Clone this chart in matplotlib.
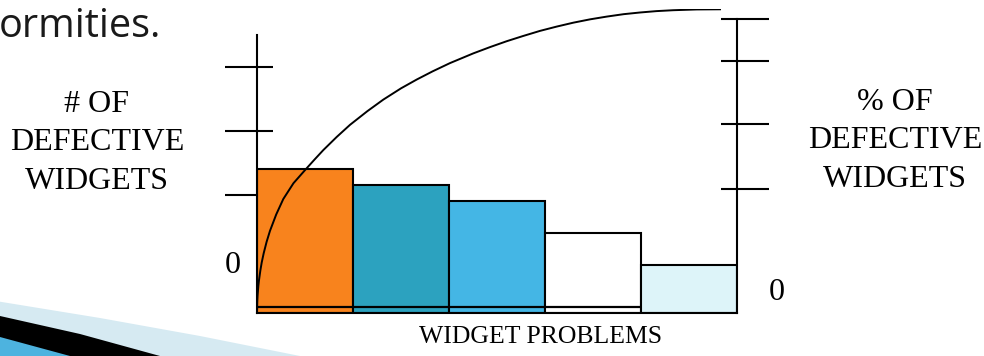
import matplotlib.pyplot as plt
from matplotlib.patches import Polygon

# bar data (number of defective widgets, in arbitrary units)
problems = ["A", "B", "C", "D", "E"]
counts = [9, 8, 7, 5, 3]
bar_colors = ["#F8831D", "#2CA2BF", "#44B6E5", "#FFFFFF", "#DDF4F9"]

# cumulative % curve
curve_x = [-0.5, -0.4985, -0.497, -0.494, -0.486, -0.48, -0.465, -0.451, -0.43, -0.40,
           -0.365, -0.30, -0.226, -0.12, 0.0, 0.1, 0.191, 0.33, 0.469, 0.65,
           0.816, 1.0, 1.164, 1.33, 1.51, 1.753, 1.93, 2.101, 2.27, 2.448,
           2.62, 2.795, 2.97, 3.143, 3.32, 3.49, 3.66, 3.836, 4.08, 4.323]
curve_pct = [0, 2.9, 4.2, 5.9, 9.0, 10.7, 14.1, 16.7, 19.8, 23.5,
             27.1, 32.5, 37.6, 42.8, 47.1, 50.6, 53.7, 58.0, 62.0, 66.5,
             70.3, 74.0, 76.9, 79.6, 82.3, 85.5, 87.6, 89.5, 91.2, 92.9,
             94.3, 95.6, 96.7, 97.6, 98.4, 98.95, 99.4, 99.7, 99.95, 100]

count_ticks = [7.41, 11.41, 15.41]
pct_ticks = [41.0, 62.2, 83.1, 96.7]

W, H = 984, 356
fig = plt.figure(figsize=(W / 100, H / 100), dpi=100)


def fx(px):
    return px / W


def fy(py):
    return 1 - py / H


serif = "Liberation Serif"

# decorative slide swoosh bottom-left
fig.add_artist(Polygon([(fx(0), fy(301.7)), (fx(100), fy(318)), (fx(200), fy(336)),
                        (fx(300), fy(356)), (fx(0), fy(356))],
                       closed=True, transform=fig.transFigure, color="#D6EAF2", lw=0))
fig.add_artist(Polygon([(fx(0), fy(316)), (fx(80), fy(334)), (fx(160), fy(356)),
                        (fx(0), fy(356))],
                       closed=True, transform=fig.transFigure, color="black", lw=0))
fig.add_artist(Polygon([(fx(0), fy(337)), (fx(70), fy(356)), (fx(0), fy(356))],
                       closed=True, transform=fig.transFigure, color="#4DB3DF", lw=0))

# slide title fragment
fig.text(fx(-1), fy(37), "ormities.", family="Open Sans", fontsize=28.5, color="#1A1A1A",
         ha="left", va="baseline")

ax = fig.add_axes([fx(257), fy(313.3), fx(737) - fx(257), (313.3 - 9.3) / H])
ax.set_xlim(-0.5, 4.5)
ax.set_ylim(0, 19)
ax.patch.set_alpha(0)

ax.bar(range(len(counts)), counts, width=1.0, color=bar_colors,
       edgecolor="black", linewidth=1.5, zorder=2)
ax.hlines(0.41, -0.5, 3.5, color="black", lw=1.6, zorder=3)

ax.spines["top"].set_visible(False)
ax.spines["right"].set_visible(False)
ax.spines["left"].set_bounds(0, 17.4)
ax.spines["left"].set_linewidth(1.5)
ax.spines["bottom"].set_linewidth(1.5)
ax.set_xticks([])
ax.set_yticks(count_ticks)
ax.set_yticks(count_ticks, minor=True)
ax.yaxis.remove_overlapping_locs = False
ax.set_yticklabels([])
ax.tick_params(axis="y", which="major", direction="out", length=23, width=1.5)
ax.tick_params(axis="y", which="minor", direction="in", length=11.5, width=1.5)

ax2 = ax.twinx()
ax2.set_ylim(0, 100)
ax2.plot(curve_x, curve_pct, color="black", lw=1.4, zorder=4)
for s in ["top", "left", "bottom"]:
    ax2.spines[s].set_visible(False)
ax2.spines["right"].set_bounds(0, 96.7)
ax2.spines["right"].set_linewidth(1.5)
ax2.set_yticks(pct_ticks)
ax2.set_yticks(pct_ticks, minor=True)
ax2.yaxis.remove_overlapping_locs = False
ax2.set_yticklabels([])
ax2.tick_params(axis="y", which="major", direction="out", length=23, width=1.5)
ax2.tick_params(axis="y", which="minor", direction="in", length=11.5, width=1.5)

# zero labels
ax.text(-0.75, 3.0, "0", family=serif, fontsize=23, ha="center", va="center")
ax2.text(4.91, 7.0, "0", family=serif, fontsize=23, ha="center", va="center")

# axis titles
fig.text(fx(97), fy(143), "# OF\nDEFECTIVE\nWIDGETS", family=serif, fontsize=23,
         ha="center", va="center", linespacing=1.42)
fig.text(fx(895), fy(141), "% OF\nDEFECTIVE\nWIDGETS", family=serif, fontsize=23,
         ha="center", va="center", linespacing=1.42)
fig.text(fx(541), fy(337), "WIDGET PROBLEMS", family=serif, fontsize=18.5,
         ha="center", va="center")

fig.savefig("out.png", dpi=100)
